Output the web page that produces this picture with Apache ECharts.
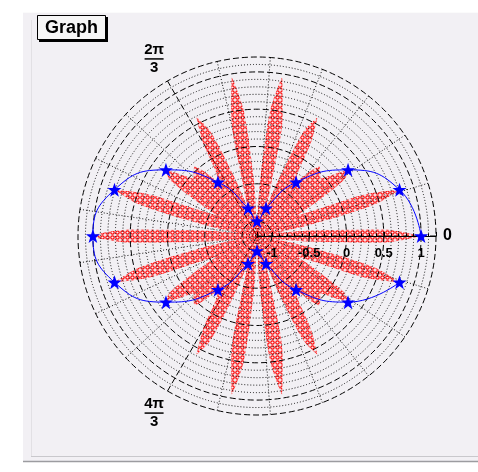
<!DOCTYPE html>
<html>
<head>
<meta charset="utf-8">
<script src="https://cdn.jsdelivr.net/npm/echarts@6/dist/echarts.min.js"></script>
<style>
  html, body { margin: 0; padding: 0; background: #ffffff; }
  #chart { width: 478px; height: 472px; }
</style>
</head>
<body>
<div id="chart"></div>
<script>
// Petal curve r(θ), sampled every 3 degrees from 0° to 360°
const petalStep = 3;
const petalValues = [
  1, 0.497, -0.489, -0.951, -0.457, 0.433, 0.809, 0.372, -0.335, -0.588,
  -0.25, 0.203, 0.309, 0.104, -0.052, 0, 0.052, -0.104, -0.309, -0.203,
  0.25, 0.588, 0.335, -0.372, -0.809, -0.433, 0.457, 0.951, 0.489, -0.497,
  -1, -0.497, 0.489, 0.951, 0.457, -0.433, -0.809, -0.372, 0.335, 0.588,
  0.25, -0.203, -0.309, -0.104, 0.052, 0, -0.052, 0.104, 0.309, 0.203,
  -0.25, -0.588, -0.335, 0.372, 0.809, 0.433, -0.457, -0.951, -0.489, 0.497,
  1, 0.497, -0.489, -0.951, -0.457, 0.433, 0.809, 0.372, -0.335, -0.588,
  -0.25, 0.203, 0.309, 0.104, -0.052, 0, 0.052, -0.104, -0.309, -0.203,
  0.25, 0.588, 0.335, -0.372, -0.809, -0.433, 0.457, 0.951, 0.489, -0.497,
  -1, -0.497, 0.489, 0.951, 0.457, -0.433, -0.809, -0.372, 0.335, 0.588,
  0.25, -0.203, -0.309, -0.104, 0.052, 0, -0.052, 0.104, 0.309, 0.203,
  -0.25, -0.588, -0.335, 0.372, 0.809, 0.433, -0.457, -0.951, -0.489, 0.497,
  1
];

// Sampled points drawn as stars, every 18 degrees
const markerStep = 18;
const markerValues = [
  1, 0.809, 0.309, -0.309, -0.809, -1, -0.809, -0.309, 0.309, 0.809,
  1, 0.809, 0.309, -0.309, -0.809, -1, -0.809, -0.309, 0.309, 0.809
];

// Angular labels (radians) at the primary divisions
const angleLabels = { 0: '0', 120: '{n|2π}\n{l|}\n{d|3}', 240: '{n|4π}\n{l|}\n{d|3}' };

const petalData = petalValues.map((v, i) => [v, i * petalStep]);
const markerData = markerValues.map((v, i) => [v, i * markerStep]);

// small red rings used as the fill pattern
function ringTile() {
  const c = document.createElement('canvas');
  c.width = 5; c.height = 5;
  const g = c.getContext('2d');
  g.strokeStyle = '#ff0000';
  g.lineWidth = 1.2;
  g.beginPath();
  g.arc(2.5, 2.5, 1.7, 0, Math.PI * 2);
  g.stroke();
  return c;
}

const starPath = 'path://M12,0 L14.9,8.1 L23.4,8.1 L16.5,13.2 L19.1,21.4 L12,16.4 L4.9,21.4 L7.5,13.2 L0.6,8.1 L9.1,8.1 Z';
const fontFamily = '"Liberation Sans", Arial, sans-serif';

const chart = echarts.init(document.getElementById('chart'), null, { renderer: 'canvas' });

const option = {
  animation: false,
  backgroundColor: '#ffffff',
  graphic: [
    { type: 'rect', z: -10, silent: true, shape: { x: 23, y: 12, width: 455, height: 450 }, style: { fill: '#f2f0f4' } },
    { type: 'line', z: -9, silent: true, shape: { x1: 23, y1: 12.5, x2: 478, y2: 12.5 }, style: { stroke: '#fbfbfb', lineWidth: 1 } },
    { type: 'line', z: -9, silent: true, shape: { x1: 31.5, y1: 20, x2: 31.5, y2: 457 }, style: { stroke: '#e2e0e4', lineWidth: 1 } },
    { type: 'line', z: -9, silent: true, shape: { x1: 31, y1: 456.5, x2: 478, y2: 456.5 }, style: { stroke: '#c9c8cc', lineWidth: 1 } },
    { type: 'line', z: -9, silent: true, shape: { x1: 23, y1: 461.5, x2: 478, y2: 461.5 }, style: { stroke: '#9c9ca0', lineWidth: 1.5 } },
    // title box
    { type: 'rect', z: 20, silent: true, shape: { x: 39, y: 17, width: 69, height: 25 }, style: { fill: '#000000' } },
    { type: 'rect', z: 21, silent: true, shape: { x: 37.5, y: 15.5, width: 68, height: 24 }, style: { fill: '#f6f6f6', stroke: '#000000', lineWidth: 1 } },
    { type: 'text', z: 22, silent: true, style: { x: 71.5, y: 28, text: 'Graph', fill: '#000000', font: 'bold 18px ' + fontFamily, textAlign: 'center', textVerticalAlign: 'middle' } }
  ],
  polar: { center: [257, 236], radius: 179 },
  angleAxis: {
    type: 'value',
    min: 0,
    max: 360,
    interval: 120,
    startAngle: 0,
    clockwise: false,
    axisLine: { show: false },
    axisTick: { show: false },
    minorTick: { show: false, splitNumber: 7 },
    splitLine: { show: true, lineStyle: { color: '#000000', width: 1, type: [6, 3] } },
    minorSplitLine: { show: true, lineStyle: { color: '#111111', width: 1, type: [1, 2] } },
    axisLabel: {
      margin: 7,
      color: '#000000',
      fontFamily: fontFamily,
      fontWeight: 'bold',
      fontSize: 16,
      formatter: v => angleLabels[v] || '',
      rich: {
        n: { fontSize: 15, fontWeight: 'bold', color: '#000', align: 'center', fontFamily: fontFamily, lineHeight: 14 },
        l: { width: 19, height: 1.5, backgroundColor: '#000', align: 'center', lineHeight: 4 },
        d: { fontSize: 15, fontWeight: 'bold', color: '#000', align: 'center', fontFamily: fontFamily, lineHeight: 14 }
      }
    }
  },
  radiusAxis: {
    type: 'value',
    min: -1.2,
    max: 1.2,
    splitNumber: 5,
    axisLine: { show: true, lineStyle: { color: '#000000', width: 1.2 } },
    axisTick: { show: true, length: 4, lineStyle: { color: '#000000' } },
    minorTick: { show: true, splitNumber: 5, length: 2.5, lineStyle: { color: '#000000' } },
    splitLine: { show: true, lineStyle: { color: '#000000', width: 1, type: [6, 3] } },
    minorSplitLine: { show: true, lineStyle: { color: '#111111', width: 1, type: [1, 2] } },
    axisLabel: {
      margin: -11,
      verticalAlign: 'top',
      color: '#000000',
      fontFamily: fontFamily,
      fontWeight: 'bold',
      fontSize: 13,
      formatter: v => (Math.abs(Math.abs(v) - 1.2) < 1e-6 ? '' : String(v))
    },
    z: 5
  },
  series: [
    {
      name: 'petals',
      type: 'line',
      coordinateSystem: 'polar',
      data: petalData,
      showSymbol: false,
      symbol: 'none',
      smooth: 0.3,
      lineStyle: { width: 0, opacity: 0 },
      areaStyle: { origin: 'start', color: { image: ringTile(), repeat: 'repeat' }, opacity: 1 },
      z: 2,
      silent: true
    },
    {
      name: 'samples',
      type: 'line',
      coordinateSystem: 'polar',
      data: markerData,
      smooth: true,
      symbol: starPath,
      symbolSize: 14,
      showSymbol: true,
      lineStyle: { color: '#0000ff', width: 1 },
      itemStyle: { color: '#0000ff' },
      z: 6,
      silent: true
    }
  ]
};

chart.setOption(option);
</script>
</body>
</html>
